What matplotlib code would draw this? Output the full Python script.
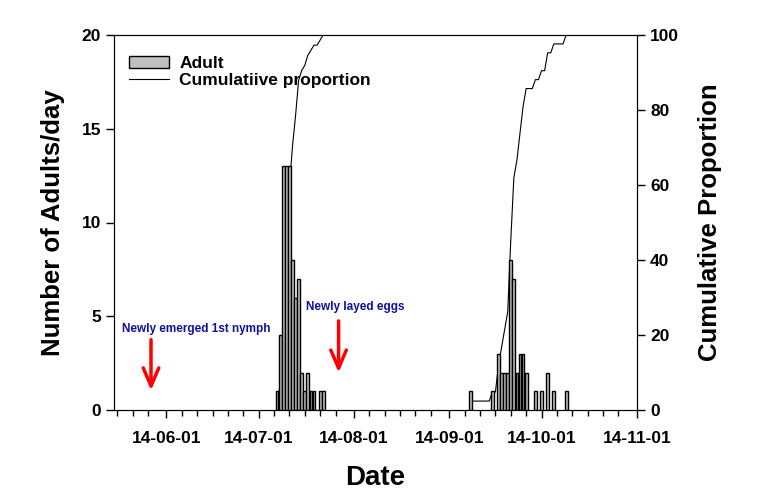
import matplotlib
matplotlib.use("Agg")
import matplotlib.pyplot as plt
import matplotlib.dates as mdates
import pandas as pd

plt.rcParams['font.family'] = ['Liberation Sans', 'DejaVu Sans']
plt.rcParams['font.weight'] = 'bold'

# Adults caught per day, first generation (July)
gen1_dates = pd.date_range('2014-07-07', '2014-07-22')
gen1_counts = [1, 4, 13, 13, 13, 8, 6, 7, 2, 1, 2, 1, 1, 0, 1, 1]

# second generation (September - October)
gen2_dates = pd.to_datetime(['2014-09-08', '2014-09-15', '2014-09-17', '2014-09-18',
                             '2014-09-19', '2014-09-20', '2014-09-21', '2014-09-22',
                             '2014-09-23', '2014-09-24', '2014-09-25', '2014-09-26',
                             '2014-09-29', '2014-10-01', '2014-10-03', '2014-10-05',
                             '2014-10-09'])
gen2_counts = [1, 1, 3, 2, 2, 2, 8, 7, 2, 3, 3, 2, 1, 1, 2, 1, 1]

# event markers
event_labels = ['Newly emerged 1st nymph', 'Newly layed eggs']
event_dates = pd.to_datetime(['2014-05-27', '2014-07-27'])


def cum_prop(dates, counts):
    s = pd.Series(counts, index=dates)
    s = s.reindex(pd.date_range(dates[0], dates[-1]), fill_value=0)
    return s.index, s.cumsum() / s.sum() * 100


fig = plt.figure(figsize=(7.71, 5.0), dpi=100)
ax = fig.add_axes([0.148, 0.18, 0.678, 0.75])
ax2 = ax.twinx()

# bars in front of the cumulative line
ax.set_zorder(ax2.get_zorder() + 1)
ax.patch.set_visible(False)

bars = ax.bar(gen1_dates, gen1_counts, width=0.9, color='#c0c0c0',
              edgecolor='black', linewidth=1.0, label='Adult')
ax.bar(gen2_dates, gen2_counts, width=0.9, color='#c0c0c0',
       edgecolor='black', linewidth=1.0)

for d, c in [(gen1_dates, gen1_counts), (gen2_dates, gen2_counts)]:
    x, y = cum_prop(d, c)
    line, = ax2.plot(x, y, color='black', linewidth=0.8)

ax.set_xlim(pd.Timestamp('2014-05-15'), pd.Timestamp('2014-11-01'))
ax.set_ylim(0, 20)
ax2.set_ylim(0, 100)
ax.set_yticks([0, 5, 10, 15, 20])
ax2.set_yticks([0, 20, 40, 60, 80, 100])

ax.xaxis.set_major_locator(mdates.MonthLocator())
ax.xaxis.set_major_formatter(mdates.DateFormatter('%y-%m-%d'))
ax.xaxis.set_minor_locator(mdates.DayLocator(bymonthday=[6, 11, 16, 21, 26]))

ax.tick_params(axis='both', which='major', direction='out', length=6, width=1,
               labelsize=12.5)
ax.tick_params(axis='x', which='major', pad=9)
ax.tick_params(axis='x', which='minor', direction='out', length=4, width=1)
ax2.tick_params(axis='y', direction='out', length=6, width=1, labelsize=12.5)
for lab in ax.get_xticklabels() + ax.get_yticklabels() + ax2.get_yticklabels():
    lab.set_fontweight('bold')

ax.set_xlabel('Date', fontsize=20, fontweight='bold', labelpad=14)
ax.set_ylabel('Number of Adults/day', fontsize=18.5, fontweight='bold', labelpad=12)
ax2.set_ylabel('Cumulative Proportion', fontsize=18.5, fontweight='bold', labelpad=14)

# arrows and notes
ax.annotate('', xy=(event_dates[0], 0.9), xytext=(event_dates[0], 3.9),
            arrowprops=dict(arrowstyle='->,head_length=0.65,head_width=0.28',
                            color='red', lw=2.5, mutation_scale=20))
ax.annotate('', xy=(event_dates[1], 1.85), xytext=(event_dates[1], 4.9),
            arrowprops=dict(arrowstyle='->,head_length=0.65,head_width=0.28',
                            color='red', lw=2.5, mutation_scale=20))
ax.text(pd.Timestamp('2014-06-10 14:00'), 4.3, event_labels[0], color='#1010a0',
        fontsize=8.5, fontweight='bold', ha='center', va='center')
ax.text(pd.Timestamp('2014-08-01 08:00'), 5.5, event_labels[1], color='#1010a0',
        fontsize=8.5, fontweight='bold', ha='center', va='center')

ax.legend([bars, line], ['Adult', 'Cumulatiive proportion'], loc='upper left',
          bbox_to_anchor=(-0.0115, 1.0),
          frameon=False, handlelength=2.3, handletextpad=0.6,
          labelspacing=0.12, borderaxespad=0.8,
          prop={'weight': 'bold', 'size': 12.5})

fig.savefig('out.png', dpi=100)
